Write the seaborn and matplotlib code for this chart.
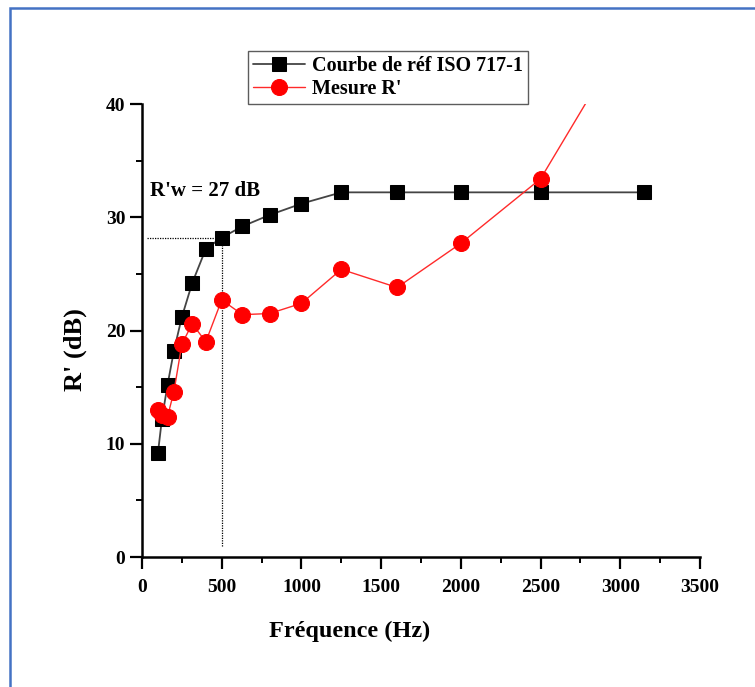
import numpy as np
import pandas as pd
import matplotlib
matplotlib.use('Agg')
import matplotlib.pyplot as plt
import seaborn as sns
from matplotlib.patches import Rectangle

# data
freqs = [100, 125, 160, 200, 250, 315, 400, 500, 630, 800, 1000, 1250, 1600, 2000, 2500, 3150]
ref_iso = [9.2, 12.2, 15.2, 18.2, 21.2, 24.2, 27.2, 28.2, 29.2, 30.2, 31.2, 32.2, 32.2, 32.2, 32.2, 32.2]
mesure = [13.0, 12.5, 12.4, 14.6, 18.8, 20.6, 19.0, 22.7, 21.4, 21.5, 22.4, 25.4, 23.8, 27.7, 33.4, 48.7]
xticks = [0, 500, 1000, 1500, 2000, 2500, 3000, 3500]
yticks = [0, 10, 20, 30, 40]
rw_label = "R'w = 27 dB"
rw_freq = 500

sns.set_style("ticks")
plt.rcParams['font.family'] = ['Liberation Serif', 'DejaVu Serif']
plt.rcParams['font.weight'] = 'bold'
plt.rcParams['text.color'] = 'black'
plt.rcParams['xtick.color'] = 'black'
plt.rcParams['ytick.color'] = 'black'
plt.rcParams['axes.edgecolor'] = 'black'

df = pd.DataFrame({
    'freq': freqs * 2,
    'val': ref_iso + mesure,
    'serie': ['Courbe de réf ISO 717-1'] * len(freqs) + ["Mesure R'"] * len(freqs),
})

fig = plt.figure(figsize=(7.55, 6.87), dpi=100)
ax = fig.add_axes([0.1881, 0.1892, 0.7391, 0.6594])

sns.lineplot(data=df[df.serie == 'Courbe de réf ISO 717-1'], x='freq', y='val',
             color='#444444', lw=1.3, marker='s', markersize=10,
             markerfacecolor='black', markeredgecolor='black',
             label='Courbe de réf ISO 717-1', ax=ax)
sns.lineplot(data=df[df.serie == "Mesure R'"], x='freq', y='val',
             color='#ff2a2a', lw=1.0, marker='o', markersize=11.5,
             markerfacecolor='#ff0000', markeredgecolor='#ff0000',
             label="Mesure R'", ax=ax)

# R'w guide lines
rw_val = ref_iso[freqs.index(rw_freq)]
ax.plot([30, rw_freq], [rw_val, rw_val], ls=(0, (1, 1)), color='black', lw=0.9, zorder=1)
ax.plot([rw_freq, rw_freq], [1, rw_val], ls=(0, (1, 1)), color='black', lw=0.9, zorder=1)
ax.text(50, 32.3, rw_label, fontsize=15, fontweight='bold', va='center', ha='left')

ax.set_xlim(0, 3500)
ax.set_ylim(0, 40)
ax.set_xticks(xticks)
ax.set_yticks(yticks)
ax.set_xticks(np.arange(250, 3500, 500), minor=True)
ax.set_yticks(np.arange(5, 40, 10), minor=True)
ax.tick_params(axis='both', which='major', length=8.5, width=1.6, labelsize=14, direction='out')
ax.tick_params(axis='x', which='major', pad=7)
ax.tick_params(axis='both', which='minor', length=4.5, width=1.4, direction='out')
for lab in ax.get_xticklabels() + ax.get_yticklabels():
    lab.set_fontweight('bold')
for s in ['left', 'bottom']:
    ax.spines[s].set_linewidth(1.8)
sns.despine(ax=ax)

ax.set_xlabel('')
ax.set_ylabel('')
fig.text(350 / 755, 1 - 631 / 687, 'Fréquence (Hz)', fontsize=17.5, fontweight='bold',
         ha='center', va='center')
fig.text(0.1, 1 - 350 / 687, "R' (dB)", rotation=90, fontsize=19, fontweight='bold',
         ha='center', va='center')

leg = ax.legend(loc='lower left', bbox_to_anchor=(0.19, 1.0), borderaxespad=0,
                frameon=True, fancybox=False, fontsize=14.5, handlelength=2.6,
                borderpad=0.25, labelspacing=0.15, handletextpad=0.35)
leg.get_frame().set_edgecolor('#333333')
leg.get_frame().set_linewidth(1.0)
for t in leg.get_texts():
    t.set_fontweight('bold')

# blue frame around the figure
fig.patches.append(Rectangle((9.5 / 755, -0.05), 1.2, 1 - 7.5 / 687 + 0.05,
                             transform=fig.transFigure, fill=False,
                             edgecolor='#4472c4', lw=1.8))

fig.savefig('out.png', dpi=100)
